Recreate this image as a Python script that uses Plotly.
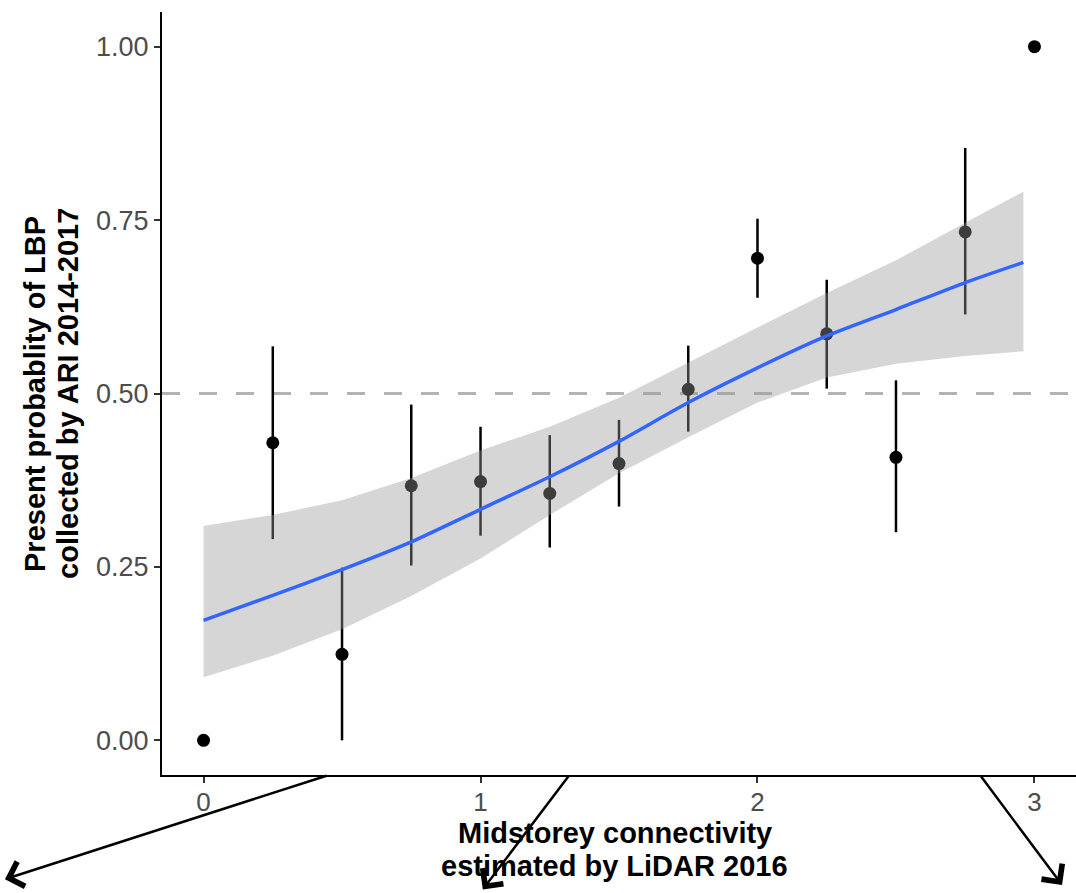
import plotly.graph_objects as go

# ---- data ----
conn_x = [0.0, 0.25, 0.5, 0.75, 1.0, 1.25, 1.5, 1.75, 2.0, 2.25, 2.5, 2.75, 3.0]
prob_y = [0.000, 0.429, 0.124, 0.367, 0.373, 0.356, 0.399, 0.506, 0.695, 0.586, 0.408, 0.733, 1.000]
err_hi = [0.000, 0.568, 0.249, 0.484, 0.452, 0.440, 0.462, 0.569, 0.752, 0.664, 0.519, 0.854, 1.000]
err_lo = [0.000, 0.290, 0.000, 0.252, 0.295, 0.278, 0.337, 0.445, 0.638, 0.507, 0.300, 0.614, 1.000]

fit_x = [0.0, 0.25, 0.5, 0.75, 1.0, 1.25, 1.5, 1.75, 2.0, 2.25, 2.5, 2.75, 2.96]
fit_y = [0.173, 0.209, 0.246, 0.286, 0.333, 0.380, 0.431, 0.487, 0.537, 0.583, 0.621, 0.660, 0.689]
fit_hi = [0.309, 0.325, 0.346, 0.378, 0.418, 0.452, 0.494, 0.545, 0.595, 0.645, 0.692, 0.746, 0.791]
fit_lo = [0.091, 0.122, 0.160, 0.208, 0.262, 0.325, 0.385, 0.437, 0.487, 0.523, 0.543, 0.554, 0.561]

x_ticks = [0, 1, 2, 3]
x_ticktext = ["0", "1", "2", "3"]
y_ticks = [0, 0.25, 0.5, 0.75, 1.0]
y_ticktext = ["0.00", "0.25", "0.50", "0.75", "1.00"]
ref_line = 0.5

x_title = ["Midstorey connectivity", "estimated by LiDAR 2016"]
y_title = ["Present probablity of LBP", "collected by ARI 2014-2017"]

FONT = "Liberation Sans, Arial, Helvetica, sans-serif"

# ---- figure ----
fig = go.Figure()

# points with error bars
fig.add_trace(go.Scatter(
    x=conn_x, y=prob_y, mode="markers",
    marker=dict(size=13, color="black"),
    error_y=dict(type="data", symmetric=False,
                 array=[h - y for h, y in zip(err_hi, prob_y)],
                 arrayminus=[y - l for l, y in zip(err_lo, prob_y)],
                 width=0, thickness=2.5, color="black"),
    showlegend=False, hoverinfo="skip"))

# confidence ribbon (drawn over points, like ggplot)
fig.add_trace(go.Scatter(
    x=fit_x + fit_x[::-1], y=fit_hi + fit_lo[::-1],
    fill="toself", fillcolor="rgba(153,153,153,0.4)",
    line=dict(width=0), mode="lines",
    showlegend=False, hoverinfo="skip"))

# fitted line
fig.add_trace(go.Scatter(
    x=fit_x, y=fit_y, mode="lines",
    line=dict(color="#3366FF", width=3.5, shape="spline", smoothing=0.6),
    showlegend=False, hoverinfo="skip"))

# dashed reference line
fig.add_hline(y=ref_line, layer="below",
              line=dict(color="#B3B3B3", width=3, dash="18px,19px"))

fig.update_layout(
    width=1076, height=893,
    margin=dict(l=162, r=0, t=12, b=118),
    paper_bgcolor="white", plot_bgcolor="white",
    font=dict(family=FONT),
    xaxis=dict(range=[-0.15, 3.15], tickvals=x_ticks, ticktext=x_ticktext,
               showgrid=False, zeroline=False, showline=True,
               linecolor="black", linewidth=2, ticks="outside", ticklen=6,
               tickwidth=2, tickcolor="#333333", ticklabelstandoff=-3,
               tickfont=dict(size=26, color="#4D4D4D", family=FONT)),
    yaxis=dict(range=[-0.05, 1.05], tickvals=y_ticks, ticktext=y_ticktext,
               showgrid=False, zeroline=False, showline=True,
               linecolor="black", linewidth=2, ticks="outside", ticklen=6,
               tickwidth=2, tickcolor="#333333",
               tickfont=dict(size=27, color="#4D4D4D", family=FONT)),
)

# axis titles as annotations
title_font = dict(size=29, color="black", family="Liberation Sans, Arial, sans-serif")
fig.add_annotation(text="<b>%s</b>" % x_title[0], xref="paper", yref="paper",
                   x=0.4956, y=-0.0760, xanchor="center", yanchor="middle",
                   showarrow=False, font=title_font)
fig.add_annotation(text="<b>%s</b>" % x_title[1], xref="paper", yref="paper",
                   x=0.4956, y=-0.1190, xanchor="center", yanchor="middle",
                   showarrow=False, font=title_font)
fig.add_annotation(text="<b>%s</b>" % y_title[0], xref="paper", yref="paper",
                   x=-0.1395, y=0.5, xanchor="center", yanchor="middle",
                   textangle=-90, showarrow=False, font=title_font)
fig.add_annotation(text="<b>%s</b>" % y_title[1], xref="paper", yref="paper",
                   x=-0.1035, y=0.5, xanchor="center", yanchor="middle",
                   textangle=-90, showarrow=False, font=title_font)

# overlay arrows below the x axis
arrows = [
    dict(x=-0.1718, y=-0.1366, ax=323, ay=-104),
    dict(x=0.351, y=-0.150, ax=87, ay=-115),
    dict(x=0.9847, y=-0.1442, ax=-82, ay=-110),
]
for a in arrows:
    fig.add_annotation(text="", xref="paper", yref="paper", x=a["x"], y=a["y"],
                       ax=a["ax"], ay=a["ay"], showarrow=True, arrowhead=4,
                       arrowsize=2.0, arrowwidth=2.5, arrowcolor="black",
                       standoff=0, startstandoff=0)

fig.write_html("out.html")
